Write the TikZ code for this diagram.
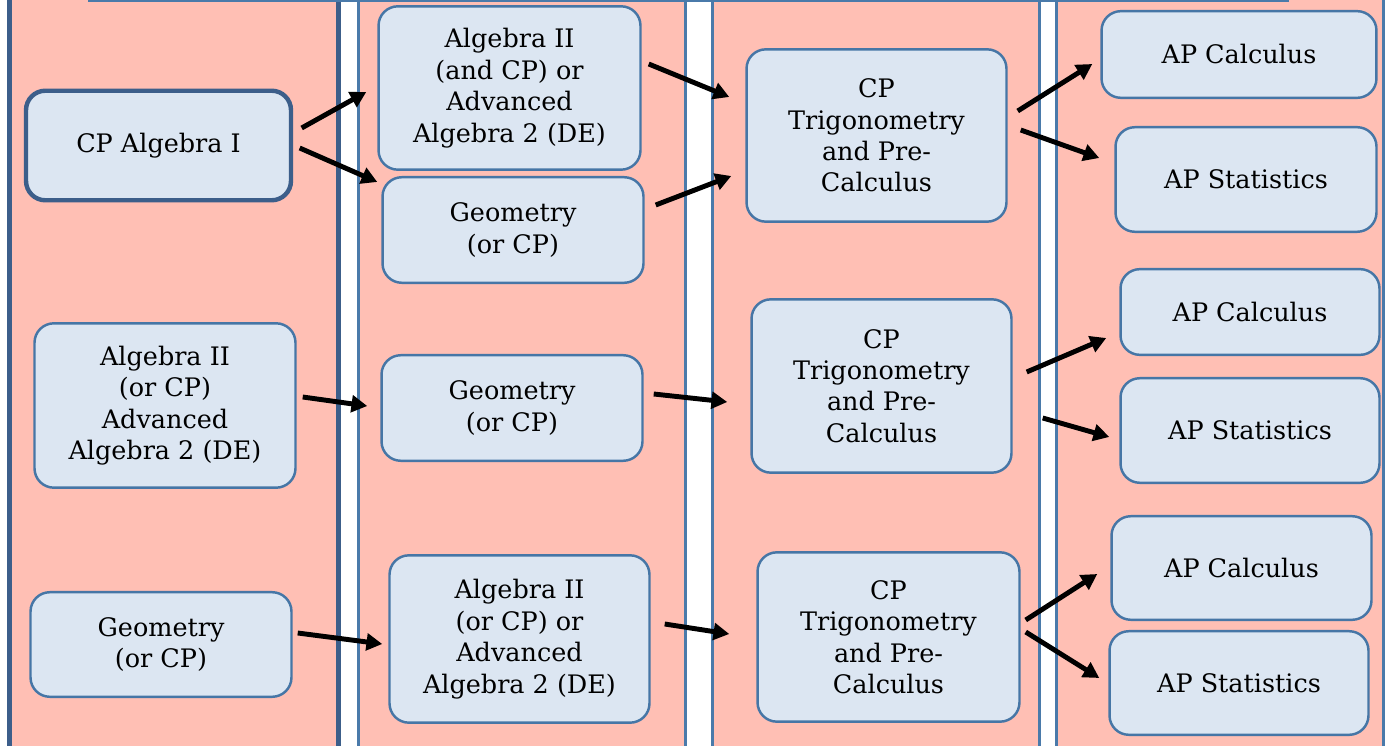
\documentclass[tikz,border=0pt]{standalone}
\usepackage{fontspec}
\setmainfont{DejaVu Serif}
\usetikzlibrary{calc,arrows.meta}
\definecolor{pinkfill}{RGB}{255,191,180}
\definecolor{nodef}{RGB}{220,230,242}
\definecolor{nodeb}{RGB}{70,118,166}
\definecolor{darkb}{RGB}{60,94,138}
\definecolor{colb}{RGB}{74,122,170}
\begin{document}
\begin{tikzpicture}[x=0.02cm,y=-0.02cm,
  colthick/.style={fill=pinkfill,draw=darkb,line width=2.8pt},
  colthin/.style={fill=pinkfill,draw=colb,line width=1.7pt},
  box/.style={draw=nodeb,fill=nodef,line width=1.4pt,rounded corners=11pt,align=center,inner sep=0pt,font=\fontsize{14.5}{17.9}\selectfont},
  boxthick/.style={box,draw=darkb,line width=2.5pt},
  sz/.style 2 args={minimum width=#1*0.56693pt,minimum height=#2*0.56693pt},
  arr/.style={line width=2.8pt,-{Triangle[length=9pt,width=9.5pt]}}]
\useasboundingbox (0,0) rectangle (1386,746);
\clip (0,0) rectangle (1386,746);
\fill[white] (0,0) rectangle (1386,746);
% columns
\draw[colthick] (9.5,-20) rectangle (338.5,770);
\draw[colthin] (358.5,-20) rectangle (685.5,770);
\draw[colthin] (712.5,-20) rectangle (1039.5,770);
\draw[colthin] (1056.5,-20) rectangle (1383.5,770);
\draw[colb,line width=1.2pt] (88,0.6) -- (1289,0.6);
% column 1
\node[boxthick,sz={266}{110}] (n1) at (158.5,145.5) {CP Algebra I};
\node[box,sz={262}{165}] (n2) at (165,405.5) {Algebra II\\(or CP)\\Advanced\\Algebra 2 (DE)};
\node[box,sz={262}{105}] (n3) at (161,644.5) {Geometry\\(or CP)};
% column 2
\node[box,sz={263}{164}] (m1) at (509.5,88) {Algebra II\\(and CP) or\\Advanced\\Algebra 2 (DE)};
\node[box,sz={262}{106}] (m2) at (513,230) {Geometry\\(or CP)};
\node[box,sz={262}{106}] (m3) at (512,408) {Geometry\\(or CP)};
\node[box,sz={261}{168}] (m4) at (519.5,639) {Algebra II\\(or CP) or\\Advanced\\Algebra 2 (DE)};
% column 3
\node[box,sz={261}{173}] (t1) at (876.5,135.5) {CP\\Trigonometry\\and Pre-\\Calculus};
\node[box,sz={261}{174}] (t2) at (881.5,386) {CP\\Trigonometry\\and Pre-\\Calculus};
\node[box,sz={263}{170}] (t3) at (888.5,637) {CP\\Trigonometry\\and Pre-\\Calculus};
% column 4
\node[box,sz={276}{87}] (a1) at (1239,54.5) {AP Calculus};
\node[box,sz={262}{105}] (a2) at (1246,179.5) {AP Statistics};
\node[box,sz={260}{86}] (a3) at (1250,312) {AP Calculus};
\node[box,sz={260}{105}] (a4) at (1250,430.5) {AP Statistics};
\node[box,sz={261}{104}] (a5) at (1241.5,568) {AP Calculus};
\node[box,sz={260}{104}] (a6) at (1239,683) {AP Statistics};
% arrows
\draw[arr] ($(n1.east)+(8.5,-17.5)$) -- ($(m1.west)+(-11,4)$);
\draw[arr] ($(n1.east)+(6.5,2.5)$) -- ($(m2.west)+(-4,-48)$);
\draw[arr] ($(m1.east)+(7,-24)$) -- ($(t1.west)+(-16,-38.5)$);
\draw[arr] ($(m2.east)+(11,-25)$) -- ($(t1.west)+(-14,40.5)$);
\draw[arr] ($(t1.east)+(10,-24.5)$) -- ($(a1.west)+(-8,9.5)$);
\draw[arr] ($(t1.east)+(13,-5.5)$) -- ($(a2.west)+(-15,-21.5)$);
\draw[arr] ($(n2.east)+(6,-8.5)$) -- ($(m3.west)+(-13,-2)$);
\draw[arr] ($(m3.east)+(10,-14)$) -- ($(t2.west)+(-23,16)$);
\draw[arr] ($(t2.east)+(14,-14)$) -- ($(a3.west)+(-13,26)$);
\draw[arr] ($(t2.east)+(30,32)$) -- ($(a4.west)+(-10,6.5)$);
\draw[arr] ($(n3.east)+(5,-11.5)$) -- ($(m4.west)+(-6,5)$);
\draw[arr] ($(m4.east)+(14,-15)$) -- ($(t3.west)+(-27,-3)$);
\draw[arr] ($(t3.east)+(5,-17)$) -- ($(a5.west)+(-13,6)$);
\draw[arr] ($(t3.east)+(5,-5)$) -- ($(a6.west)+(-9,-5)$);
\end{tikzpicture}
\end{document}
